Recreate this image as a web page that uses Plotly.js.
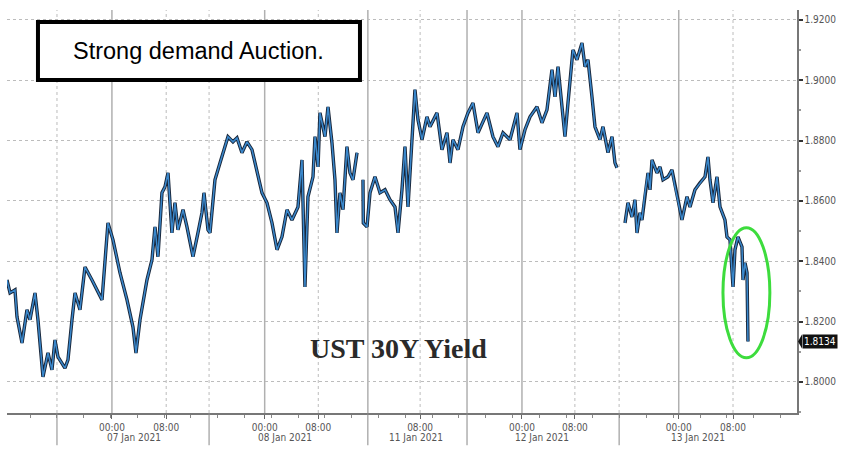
<!DOCTYPE html>
<html>
<head>
<meta charset="utf-8">
<script src="https://cdn.plot.ly/plotly-3.0.1.min.js"></script>
<style>
	html, body { margin: 0; padding: 0; background: #fff; }
	#chart { width: 848px; height: 454px; }
</style>
</head>
<body>
<div id="chart"></div>
<script>
// x = trading hours counted from 06 Jan 16:00 (session gaps removed), y = yield %
// null marks the session breaks (weekend, evening close)
const hours = [
	-7.46, -7.01, -6.27, -5.97, -5.22, -4.48, -4.03, -3.28, -2.84, -2.09, -1.34, -0.75, -0.30, 0.15,
	1.19, 1.64, 2.24, 2.69, 3.43, 4.18, 5.22, 6.12, 6.72, 7.61, 8.36, 9.40, 10.45, 11.34, 11.79,
	12.39, 13.43, 14.18, 14.63, 15.07, 15.67, 16.12, 16.57, 17.16, 17.61, 18.06, 18.81, 19.40,
	20.15, 20.30, 21.04, 21.64, 21.94, 22.54, 22.84, 23.58, 24.33, 25.52, 26.27, 26.87, 27.61,
	28.36, 29.10, 29.85, 30.60, 31.34, 32.09, 32.84, 33.58, 34.33, 35.07, 35.97, 36.57, 37.01,
	37.46, 38.21, 38.51, 38.96, 39.25, 40.00, 40.45, 41.04, 41.49, 41.79, 42.24, 42.69, 43.28,
	43.73, 44.18, 44.78,
	45.2,
	45.67, 45.72, 46.27, 46.72, 47.46, 48.21, 48.96, 49.70, 50.45, 50.90, 51.49, 51.94, 52.39,
	52.99, 53.43, 53.88, 54.48, 55.22, 55.67, 56.72, 57.46, 58.21, 58.66, 59.10, 59.85, 60.60,
	61.34, 62.09, 62.84, 64.18, 65.07, 65.82, 66.57, 67.61, 68.66, 69.10, 69.85, 70.60, 71.64,
	72.39, 73.13, 73.88, 74.33, 74.78, 75.52, 75.82, 76.27, 77.01, 77.61, 78.36, 78.81, 79.25,
	79.85, 80.30, 81.04, 81.49, 82.24, 82.84, 83.28, 83.58,
	84.2,
	84.78, 85.22, 85.82, 86.27, 86.57, 87.01, 87.31, 87.76, 88.21, 88.51, 88.81, 89.55, 90.00,
	90.45, 91.19, 91.79, 92.24, 92.69, 93.28, 94.03, 94.48, 95.22, 95.97, 96.72, 97.16, 97.46,
	97.91, 98.51, 98.96, 99.70, 100.00, 100.45, 100.90, 101.19, 101.64, 102.24, 102.39, 102.69,
	102.99, 103.13
];
const yields = [
	1.8338, 1.8295, 1.8305, 1.8216, 1.8129, 1.8239, 1.8206, 1.8295, 1.8206, 1.8017, 1.8096, 1.8040, 1.8139, 1.8083,
	1.8046, 1.8073, 1.8206, 1.8295, 1.8239, 1.8381, 1.8338, 1.8295, 1.8272, 1.8527, 1.8471, 1.8362, 1.8272, 1.8182, 1.8096,
	1.8206, 1.8338, 1.8405, 1.8514, 1.8415, 1.8627, 1.8647, 1.8693, 1.8494, 1.8594, 1.8504, 1.8571, 1.8514,
	1.8438, 1.8415, 1.8494, 1.8561, 1.8627, 1.8504, 1.8494, 1.8670, 1.8726, 1.8813, 1.8796, 1.8809, 1.8760,
	1.8796, 1.8770, 1.8703, 1.8627, 1.8594, 1.8527, 1.8438, 1.8481, 1.8571, 1.8537, 1.8580, 1.8736, 1.8315,
	1.8614, 1.8680, 1.8813, 1.8713, 1.8892, 1.8813, 1.8912, 1.8793, 1.8670, 1.8494, 1.8627, 1.8571, 1.8780,
	1.8693, 1.8670, 1.8760,
	null,
	1.8670, 1.8527, 1.8514, 1.8627, 1.8680, 1.8627, 1.8637, 1.8604, 1.8580, 1.8494, 1.8637, 1.8780, 1.8580,
	1.8803, 1.8969, 1.8869, 1.8803, 1.8879, 1.8846, 1.8892, 1.8770, 1.8826, 1.8726, 1.8803, 1.8770, 1.8846,
	1.8892, 1.8925, 1.8826, 1.8892, 1.8813, 1.8780, 1.8826, 1.8803, 1.8892, 1.8770, 1.8836, 1.8879, 1.8912,
	1.8859, 1.8902, 1.9035, 1.8945, 1.9045, 1.8892, 1.8813, 1.8925, 1.9101, 1.9068, 1.9124, 1.9045, 1.9068,
	1.8945, 1.8846, 1.8803, 1.8846, 1.8760, 1.8813, 1.8726, 1.8710,
	null,
	1.8527, 1.8594, 1.8547, 1.8604, 1.8494, 1.8561, 1.8537, 1.8627, 1.8693, 1.8637, 1.8736, 1.8693, 1.8713,
	1.8670, 1.8680, 1.8703, 1.8647, 1.8604, 1.8537, 1.8614, 1.8580, 1.8637, 1.8660, 1.8680, 1.8746, 1.8670,
	1.8594, 1.8680, 1.8580, 1.8537, 1.8481, 1.8471, 1.8315, 1.8438, 1.8481, 1.8448, 1.8338, 1.8395,
	1.8362, 1.8134
];

const lastYield = 1.8134;

// bottom axis: time ticks, day labels, day dividers
const timeTicks = [8.2, 16.3, 31.0, 39.0, 54.2, 69.4, 77.3, 92.8, 100.9];
const timeLabels = ['00:00', '08:00', '00:00', '08:00', '08:00', '00:00', '08:00', '00:00', '08:00'];
const dayCenters = [11.5, 34.0, 53.6, 72.4, 95.7];
const dayLabels = ['07 Jan 2021', '08 Jan 2021', '11 Jan 2021', '12 Jan 2021', '13 Jan 2021'];
const dayDividers = [0, 22.7, 46.4, 61.2, 83.9];
const solidGrid = [8.2, 31.0, 46.4, 61.2, 69.4, 92.8];
const dottedGrid = [0, 16.3, 22.7, 39.0, 54.2, 77.3, 83.9, 100.9];
const yTicks = [1.80, 1.82, 1.84, 1.86, 1.88, 1.90, 1.92];

const axisFont = {family: 'DejaVu Sans Condensed, Liberation Sans Narrow, sans-serif', size: 10, color: '#555'};

const shapes = [];
solidGrid.forEach(x => shapes.push({
	type: 'line', layer: 'below', xref: 'x', yref: 'paper', x0: x, x1: x, y0: 0, y1: 1,
	line: {color: '#b0b0b0', width: 1.5}
}));
dottedGrid.forEach(x => shapes.push({
	type: 'line', layer: 'below', xref: 'x', yref: 'paper', x0: x, x1: x, y0: 0, y1: 1,
	line: {color: '#bcbcbc', width: 1, dash: 'dot'}
}));
dayDividers.forEach(x => shapes.push({
	type: 'line', xref: 'x', yref: 'paper', x0: x, x1: x, y0: 0, y1: -0.08,
	line: {color: '#888', width: 1}
}));
// callout box
shapes.push({
	type: 'rect', xref: 'paper', yref: 'paper', x0: 0.0392, x1: 0.4468, y0: 0.8263, y1: 0.9702,
	fillcolor: '#fff', line: {color: '#000', width: 4}
});
// green ring round the auction drop
shapes.push({
	type: 'circle', xref: 'x', yref: 'y', x0: 99.4, x1: 106.4, y0: 1.8080, y1: 1.8511,
	line: {color: '#3ddc3d', width: 3}
});
// pointer of the last price tag
shapes.push({
	type: 'path', xref: 'paper', yref: 'y', xsizemode: 'pixel', ysizemode: 'pixel',
	xanchor: 1, yanchor: lastYield, path: 'M 1 0 L 5 -7 L 5 7 Z',
	fillcolor: '#111', line: {width: 0}
});

const annotations = dayCenters.map((x, i) => ({
	xref: 'x', yref: 'paper', x, y: 0, yshift: -24, yanchor: 'middle',
	text: dayLabels[i], showarrow: false, font: axisFont
}));
annotations.push({
	xref: 'paper', yref: 'paper', x: 0.243, y: 0.898, xanchor: 'center', yanchor: 'middle',
	text: 'Strong demand Auction.', showarrow: false,
	font: {family: 'Liberation Sans, Arial, sans-serif', size: 23.5, color: '#000'}
});
annotations.push({
	xref: 'paper', yref: 'paper', x: 0.495, y: 0.159, xanchor: 'center', yanchor: 'middle',
	text: '<b>UST 30Y Yield</b>', showarrow: false,
	font: {family: 'Liberation Serif, Times New Roman, serif', size: 28, color: '#2a2a2a'}
});
annotations.push({
	xref: 'paper', yref: 'y', x: 1, y: lastYield, xanchor: 'left', xshift: 5, yanchor: 'middle',
	text: lastYield.toFixed(4), showarrow: false, bgcolor: '#111', borderpad: 1,
	font: {family: axisFont.family, size: 10, color: '#fff'}
});

const under = {
	x: hours, y: yields, mode: 'lines', connectgaps: false, hoverinfo: 'skip',
	line: {color: '#18263a', width: 3.4}
};
const over = {
	x: hours, y: yields, mode: 'lines', connectgaps: false, hoverinfo: 'skip',
	line: {color: '#3a88cc', width: 1.5}
};

const layout = {
	width: 848, height: 454,
	margin: {l: 7, r: 51, t: 10, b: 41},
	paper_bgcolor: '#fff', plot_bgcolor: '#fff',
	showlegend: false,
	xaxis: {
		range: [-7.46, 110.45],
		tickmode: 'array', tickvals: timeTicks, ticktext: timeLabels,
		ticks: 'outside', ticklen: 4, tickcolor: '#666',
		minor: {ticks: 'outside', dtick: 4, tick0: 0, ticklen: 3, tickcolor: '#888'},
		showgrid: false, zeroline: false,
		showline: true, linecolor: '#777', linewidth: 1.5,
		tickfont: axisFont
	},
	yaxis: {
		side: 'right', range: [1.7897, 1.9233],
		tickmode: 'array', tickvals: yTicks, tickformat: '.4f',
		ticks: 'outside', ticklen: 4, tickwidth: 2, tickcolor: '#333',
		minor: {ticks: 'outside', dtick: 0.01, ticklen: 2, tickcolor: '#999', showgrid: false},
		showgrid: true, gridcolor: '#bcbcbc', griddash: 'dot', gridwidth: 1,
		zeroline: false, showline: true, linecolor: '#777', linewidth: 1.5,
		tickfont: axisFont
	},
	shapes, annotations
};

Plotly.newPlot('chart', [under, over], layout, {displayModeBar: false, staticPlot: true});
</script>
</body>
</html>
